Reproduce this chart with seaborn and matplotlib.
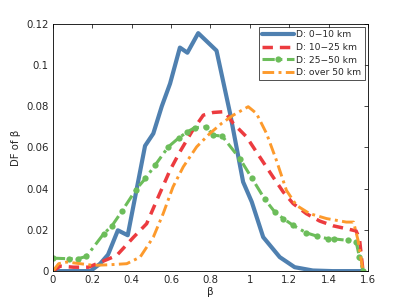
import numpy as np
import pandas as pd
import matplotlib
matplotlib.use('Agg')
import matplotlib.pyplot as plt
import seaborn as sns

# values
beta_d1 = [0.0, 0.19, 0.24, 0.28, 0.33, 0.38, 0.468, 0.51, 0.553, 0.595, 0.645, 0.683,
           0.738, 0.831, 0.90, 0.966, 1.01, 1.068, 1.152, 1.228, 1.32, 1.42, 1.57]
df_d1 = [0.0, 0.0, 0.0036, 0.008, 0.0198, 0.0174, 0.0608, 0.0668, 0.080, 0.091, 0.1085, 0.106,
         0.1155, 0.107, 0.0765, 0.0433, 0.0336, 0.0165, 0.0068, 0.0019, 0.0003, 0.0, 0.0]

beta_d2 = [0.0, 0.037, 0.105, 0.18, 0.257, 0.324, 0.41, 0.476, 0.535, 0.595, 0.645, 0.705,
           0.764, 0.814, 0.873, 0.916, 0.983, 1.05, 1.118, 1.17, 1.22, 1.287, 1.355, 1.423,
           1.49, 1.54, 1.557, 1.575]
df_d2 = [0.0, 0.0024, 0.0019, 0.0019, 0.0049, 0.0076, 0.0165, 0.023, 0.036, 0.049, 0.0579, 0.0676,
         0.0757, 0.077, 0.0774, 0.0717, 0.0652, 0.0555, 0.0457, 0.0384, 0.0328, 0.0279, 0.0243, 0.022,
         0.0206, 0.0195, 0.0157, 0.0]

beta_d3 = [0.0, 0.08, 0.125, 0.17, 0.257, 0.30, 0.35, 0.422, 0.47, 0.519, 0.586, 0.64, 0.683,
           0.72, 0.777, 0.814, 0.86, 0.95, 1.01, 1.076, 1.127, 1.17, 1.22, 1.287, 1.34, 1.397,
           1.43, 1.50, 1.54, 1.557, 1.575]
df_d3 = [0.0063, 0.006, 0.006, 0.0071, 0.018, 0.022, 0.029, 0.0396, 0.045, 0.0514, 0.0603, 0.0647,
         0.0676, 0.0696, 0.070, 0.066, 0.0655, 0.0545, 0.0452, 0.0349, 0.0287, 0.0255, 0.0222,
         0.0186, 0.017, 0.0157, 0.0156, 0.0149, 0.0143, 0.0068, 0.0]

beta_d4 = [0.0, 0.029, 0.071, 0.139, 0.206, 0.29, 0.375, 0.443, 0.51, 0.56, 0.61, 0.662, 0.73,
           0.797, 0.857, 0.916, 0.992, 1.034, 1.085, 1.135, 1.186, 1.237, 1.304, 1.39, 1.49,
           1.527, 1.55, 1.575]
df_d4 = [0.0, 0.0036, 0.0044, 0.0036, 0.0028, 0.0031, 0.0036, 0.0068, 0.0165, 0.0279, 0.0409,
         0.0506, 0.0603, 0.0668, 0.0717, 0.0757, 0.0798, 0.0765, 0.0668, 0.0538, 0.0392, 0.0319,
         0.0279, 0.0255, 0.0238, 0.0238, 0.0149, 0.0]

labels = ['D: 0\u221210 km', 'D: 10\u221225 km', 'D: 25\u221250 km', 'D: over 50 km']
x_ticks = [0, 0.2, 0.4, 0.6, 0.8, 1.0, 1.2, 1.4, 1.6]
y_ticks = [0, 0.02, 0.04, 0.06, 0.08, 0.1, 0.12]

sns.set_style('white')
plt.rcParams['font.family'] = ['DejaVu Sans']
plt.rcParams['font.size'] = 7.5

fig = plt.figure(figsize=(4.07, 3.06), dpi=100)
ax = fig.add_axes([0.130, 0.114, 0.774, 0.808])

series = [
    (beta_d1, df_d1, dict(color='#4f80b0', lw=3.0, linestyle='-')),
    (beta_d2, df_d2, dict(color='#ec3b3f', lw=2.5, linestyle=(0, (3, 2)))),
    (beta_d3, df_d3, dict(color='#6cbd5a', lw=2.2, linestyle=(0, (4, 1.5, 1, 1.5)),
                          marker='o', markersize=4.5, markeredgewidth=0)),
    (beta_d4, df_d4, dict(color='#fd9a2c', lw=2.1, linestyle=(0, (4, 1.5, 1, 1.5)))),
]
for (xs, ys, style), lab in zip(series, labels):
    d = pd.DataFrame({'beta': xs, 'df': ys})
    sns.lineplot(data=d, x='beta', y='df', ax=ax, label=lab, sort=False,
                 estimator=None, **style)

ax.set_xlim(0, 1.6)
ax.set_ylim(0, 0.12)
ax.set_xticks(x_ticks)
ax.set_xticklabels([f'{v:g}' for v in x_ticks])
ax.set_yticks(y_ticks)
ax.set_yticklabels([f'{v:g}' for v in y_ticks])
ax.tick_params(direction='in', top=True, right=True, length=3, width=0.6,
               labelsize=7.3, pad=3)
for s in ax.spines.values():
    s.set_color('black')
    s.set_linewidth(0.6)
ax.set_xlabel('\u03b2', fontsize=7.5, labelpad=1)
ax.set_ylabel('DF of \u03b2', fontsize=7.3, labelpad=4)

leg = ax.legend(loc='upper right', fontsize=6.6, frameon=True, fancybox=False,
                handlelength=3.5, handletextpad=0.25, labelspacing=0.4,
                borderpad=0.35, borderaxespad=0.35, numpoints=1)
leg.get_frame().set_edgecolor('black')
leg.get_frame().set_linewidth(0.6)

fig.savefig('out.png', dpi=100)
